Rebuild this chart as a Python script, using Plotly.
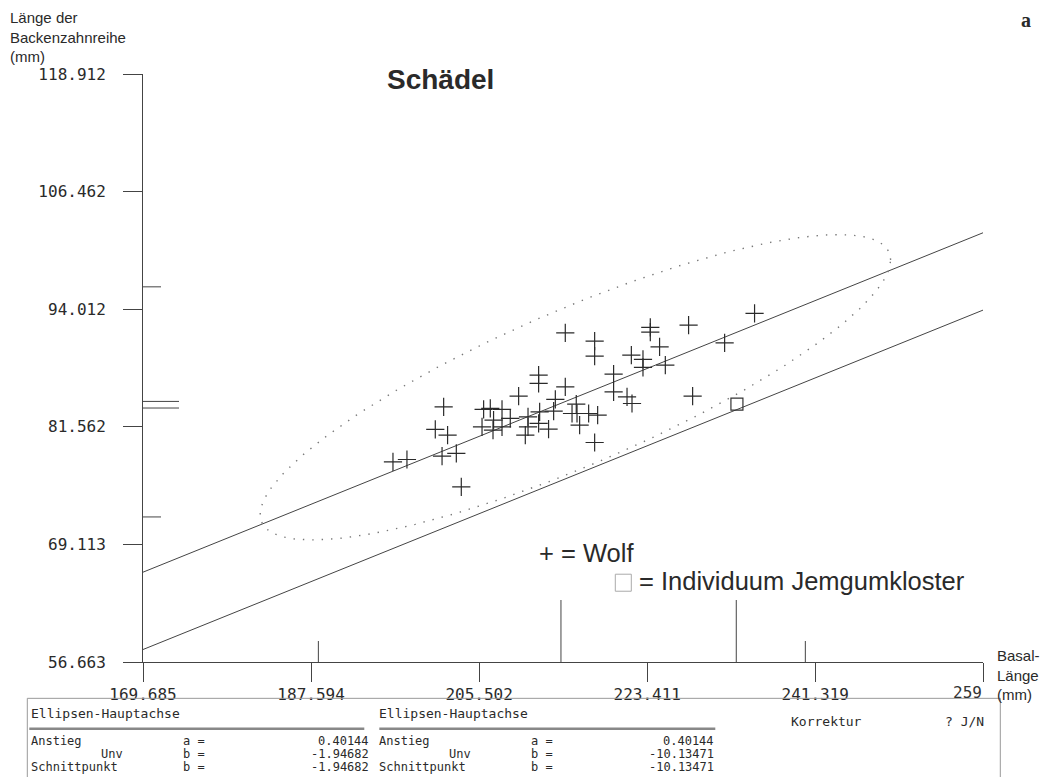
import numpy as np
import plotly.graph_objects as go

# ---------------- data ----------------
wolf_x = [234.85, 227.82, 231.66, 223.74, 223.74, 214.68, 217.81, 217.81, 224.73, 221.72,
          222.96, 225.34, 222.96, 219.83, 219.83, 221.26, 221.79, 228.25, 211.84, 211.84,
          214.68, 209.71, 213.62, 215.85, 215.93, 217.17, 218.13, 215.40, 216.21, 217.81,
          213.44, 211.95, 211.84, 212.90, 210.71, 210.71, 210.42, 208.82, 205.98, 206.69,
          207.94, 207.04, 205.81, 206.98, 207.94, 201.72, 200.83, 202.14, 196.32, 197.81,
          201.55, 203.07, 203.60]
wolf_y = [93.57, 92.33, 90.45, 92.09, 91.59, 91.51, 90.64, 89.05, 90.03, 89.15,
          88.70, 88.09, 87.85, 87.14, 85.26, 84.73, 84.03, 84.81, 87.03, 86.15,
          85.79, 84.81, 84.46, 83.96, 82.97, 82.97, 82.80, 82.97, 81.74, 79.90,
          83.22, 83.15, 81.92, 81.31, 82.62, 81.56, 80.68, 82.45, 83.40, 83.51,
          83.40, 82.26, 81.56, 81.21, 81.56, 83.68, 81.28, 80.68, 77.85, 78.10,
          78.45, 78.74, 75.20]
indiv_x = [232.97]
indiv_y = [83.96]

slope_a = 0.40144
intercept_upper = -1.94682
intercept_lower = -10.13471

# ellipse: centre, horizontal half-width, vertical half-height (vertical chords centred on a line of slope a)
ell_center = (215.75, 85.75)
ell_half_width = 33.6
ell_half_height = 8.9

# marks on the axes: mean / individual (long), range limits (short)
x_long_marks = [214.22, 232.90]
x_short_marks = [188.37, 240.26]
y_long_marks = [84.25, 83.55]
y_short_marks = [96.38, 72.02]

x_min, x_max = 169.685, 259.19
y_min, y_max = 56.663, 118.912
x_tick_vals = [169.685, 187.594, 205.502, 223.411, 241.319, 259.19]
x_tick_text = ["169.685", "187.594", "205.502", "223.411", "241.319", ""]
y_tick_vals = [56.663, 69.113, 81.562, 94.012, 106.462, 118.912]
y_tick_text = ["56.663", "69.113", "81.562", "94.012", "106.462", "118.912"]

# ---------------- layout geometry ----------------
W, H = 1056, 777
PAGE = 8  # default body margin of the html page
PL, PR, PT, PB = 142.7, 982.7, 74.3, 661.7   # plot area in screen pixels
L, R, T, B = PL - PAGE, W - (PR - PAGE), PT - PAGE, H - (PB - PAGE)


def px(x):
    return (x - PL) / (PR - PL)


def py(y):
    return (PB - y) / (PB - PT)


INK = "#2a2a2a"
MONO = "DejaVu Sans Mono"
SANS = "Liberation Sans"

fig = go.Figure()

# regression lines
lx = np.array([x_min, x_max])
fig.add_trace(go.Scatter(x=lx, y=slope_a * lx + intercept_upper, mode="lines",
                         line=dict(color="#444", width=1), hoverinfo="skip"))
fig.add_trace(go.Scatter(x=lx, y=slope_a * lx + intercept_lower, mode="lines",
                         line=dict(color="#444", width=1), hoverinfo="skip"))

# ellipse (dotted)
t = np.linspace(0, 2 * np.pi, 240)
ex = ell_center[0] + ell_half_width * np.cos(t)
ey = ell_center[1] + slope_a * ell_half_width * np.cos(t) + ell_half_height * np.sin(t)
fig.add_trace(go.Scatter(x=ex, y=ey, mode="lines",
                         line=dict(color="#777", width=1.4, dash="1.4px,8px"), hoverinfo="skip"))

# wolves
fig.add_trace(go.Scatter(x=wolf_x, y=wolf_y, mode="markers",
                         marker=dict(symbol="cross-thin", size=13, color=INK,
                                     line=dict(color=INK, width=1.2))))
# individual
fig.add_trace(go.Scatter(x=indiv_x, y=indiv_y, mode="markers",
                         marker=dict(symbol="square-open", size=12, color="#333",
                                     line=dict(color="#333", width=1.2))))

shapes = []
for xv in x_long_marks:
    shapes.append(dict(type="line", xref="x", yref="y", ysizemode="pixel",
                       yanchor=y_min, x0=xv, x1=xv, y0=0, y1=62,
                       line=dict(color="#444", width=1)))
for xv in x_short_marks:
    shapes.append(dict(type="line", xref="x", yref="y", ysizemode="pixel",
                       yanchor=y_min, x0=xv, x1=xv, y0=0, y1=21,
                       line=dict(color="#444", width=1)))
for yv in y_long_marks:
    shapes.append(dict(type="line", xref="x", yref="y", xsizemode="pixel",
                       xanchor=x_min, x0=0, x1=36, y0=yv, y1=yv,
                       line=dict(color="#444", width=1)))
for yv in y_short_marks:
    shapes.append(dict(type="line", xref="x", yref="y", xsizemode="pixel",
                       xanchor=x_min, x0=0, x1=18, y0=yv, y1=yv,
                       line=dict(color="#444", width=1)))

# legend square
shapes.append(dict(type="rect", xref="paper", yref="paper",
                   x0=px(615), x1=px(631), y0=py(591), y1=py(574),
                   line=dict(color="#aaa", width=1)))
# info box
shapes.append(dict(type="rect", xref="paper", yref="paper",
                   x0=px(27), x1=px(1000), y0=py(800), y1=py(698),
                   line=dict(color="#999", width=1)))
# double underline
for x0, x1 in [(29, 364), (379, 715)]:
    shapes.append(dict(type="line", xref="paper", yref="paper",
                       x0=px(x0), x1=px(x1), y0=py(728.5), y1=py(728.5),
                       line=dict(color="#888", width=2.5)))

ann = []


def text(s, x, y, size, family=SANS, xanchor="left", color=INK, bold=False, yanchor="middle",
         align="left"):
    if bold:
        s = "<b>" + s + "</b>"
    ann.append(dict(text=s, x=px(x), y=py(y), xref="paper", yref="paper",
                    xanchor=xanchor, yanchor=yanchor, align=align, showarrow=False,
                    borderpad=0, font=dict(family=family, size=size, color=color)))


text("Länge der<br>Backenzahnreihe<br>(mm)", 9, 8.5, 15, yanchor="top")
text("Schädel", 386, 80, 28, bold=True)
text("a", 1020, 20, 20, family="Liberation Serif", bold=True)
text("Basal-<br>Länge<br>(mm)", 996, 646, 15, yanchor="top")
text("259", 983, 692, 16, family=MONO, xanchor="right", color="#333")
text("+ = Wolf", 538, 553, 25.5)
text("= Individuum Jemgumkloster", 638, 581, 25.5)

# info box texts
BS = 12
R1, R2, R3 = 741, 754, 767
for off in (0, 348):
    text("Ellipsen-Hauptachse", 30 + off, 713, BS + 1, family=MONO)
    text("Anstieg", 30 + off, R1, BS, family=MONO)
    text("Unv", 100 + off, R2, BS, family=MONO)
    text("Schnittpunkt", 30 + off, R3, BS, family=MONO)
    for yy, lab in ((R1, "a ="), (R2, "b ="), (R3, "b =")):
        text(lab, 182 + off, yy, BS, family=MONO)
text("0.40144", 370, R1, BS, family=MONO, xanchor="right")
text("-1.94682", 370, R2, BS, family=MONO, xanchor="right")
text("-1.94682", 370, R3, BS, family=MONO, xanchor="right")
text("0.40144", 715, R1, BS, family=MONO, xanchor="right")
text("-10.13471", 715, R2, BS, family=MONO, xanchor="right")
text("-10.13471", 715, R3, BS, family=MONO, xanchor="right")
text("Korrektur", 790, 721, BS + 1, family=MONO)
text("? J/N", 985, 721, BS + 1, family=MONO, xanchor="right")

fig.update_layout(
    width=W, height=H,
    margin=dict(l=L, r=R, t=T, b=B, autoexpand=False),
    paper_bgcolor="white", plot_bgcolor="white",
    showlegend=False,
    shapes=shapes, annotations=ann,
    xaxis=dict(range=[x_min, x_max], tickvals=x_tick_vals, ticktext=x_tick_text,
               showgrid=False, zeroline=False, showline=True, linecolor="#444", linewidth=1,
               ticks="outside", ticklen=19, tickcolor="#444", tickwidth=1,
               tickfont=dict(family=MONO, size=16, color="#2a2a2a"), ticklabelstandoff=-1),
    yaxis=dict(range=[y_min, y_max], tickvals=y_tick_vals, ticktext=y_tick_text,
               showgrid=False, zeroline=False, showline=True, linecolor="#444", linewidth=1,
               ticks="outside", ticklen=19, tickcolor="#444", tickwidth=1,
               tickfont=dict(family=MONO, size=16, color="#2a2a2a"), ticklabelstandoff=14),
)

fig.write_html("out.html")
